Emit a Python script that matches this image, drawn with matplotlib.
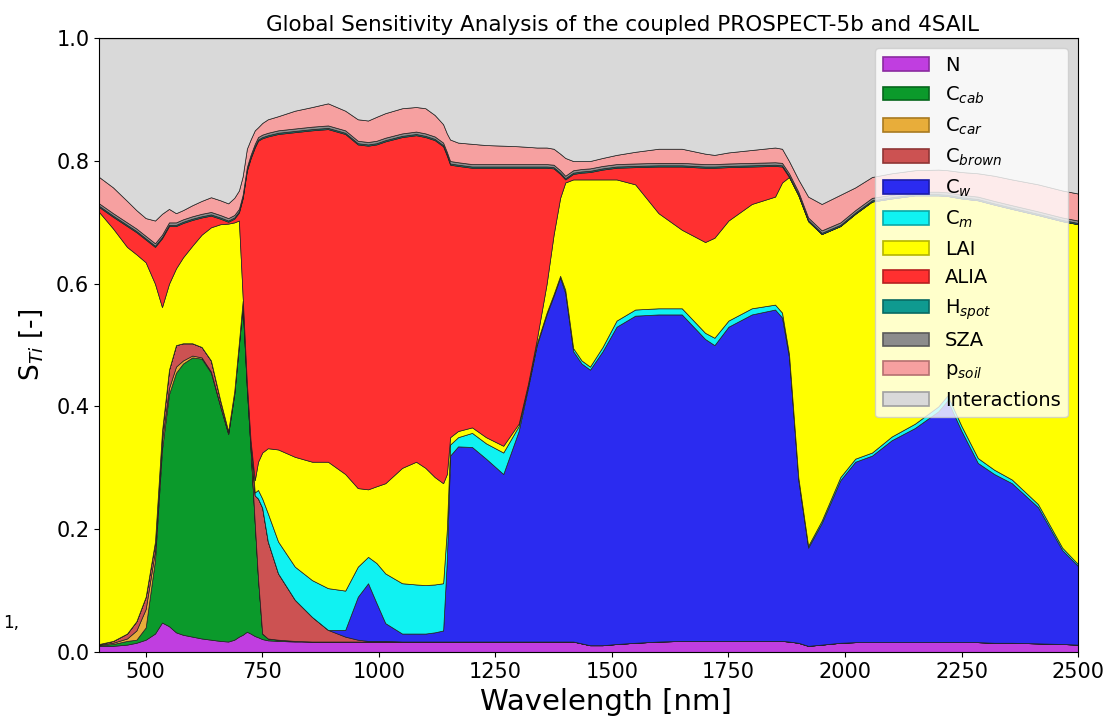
import numpy as np
import matplotlib
matplotlib.use("Agg")
import matplotlib.pyplot as plt
from matplotlib.patches import Patch

# wavelength grid [nm]
wavelength = [400, 430, 460, 480, 500, 520, 535, 550, 565, 580,
              600, 620, 640, 660, 677, 690, 700, 708, 717, 725,
              734, 741, 750, 762, 784, 820, 857, 891, 928, 955,
              977, 995, 1014, 1050, 1080, 1100, 1120, 1138, 1146, 1153,
              1170, 1200, 1230, 1267, 1300, 1320, 1339, 1360, 1375, 1389,
              1400, 1417, 1435, 1453, 1480, 1510, 1550, 1600, 1650, 1700,
              1720, 1750, 1800, 1850, 1865, 1880, 1900, 1921, 1950, 1990,
              2022, 2058, 2100, 2150, 2200, 2220, 2250, 2285, 2320, 2358,
              2414, 2466, 2500]

# total sensitivity indices
s_n = [.010, .010, .012, .015, .020, .030, .048, .042, .032, .028,
       .025, .022, .020, .018, .017, .020, .025, .028, .033, .030,
       .026, .024, .021, .019, .018, .017, .017, .017, .017, .017,
       .017, .017, .017, .017, .017, .017, .017, .017, .017, .017,
       .017, .017, .017, .017, .017, .017, .017, .017, .017, .017,
       .017, .017, .014, .011, .011, .013, .015, .017, .018, .018,
       .018, .018, .018, .018, .018, .017, .015, .010, .012, .015,
       .016, .016, .016, .016, .016, .016, .016, .016, .015, .015,
       .014, .013, .012]
s_cab = [.001, .003, .006, .005, .020, .120, .282, .378, .423, .442,
         .455, .456, .435, .382, .338, .400, .475, .537, .397, .300,
         .184, .096, .009, .003, .002, .001, 0, 0, 0, 0,
         0, 0, 0, 0, 0, 0, 0, 0, 0, 0,
         0, 0, 0, 0, 0, 0, 0, 0, 0, 0,
         0, 0, 0, 0, 0, 0, 0, 0, 0, 0,
         0, 0, 0, 0, 0, 0, 0, 0, 0, 0,
         0, 0, 0, 0, 0, 0, 0, 0, 0, 0,
         0, 0, 0]
s_car = [.001, .002, .004, .015, .030, .015, .015, .010, .010, .005,
         .003, .002, .002, .001, .001, .001, .001, .001, .001, .001,
         0, 0, 0, 0, 0, 0, 0, 0, 0, 0,
         0, 0, 0, 0, 0, 0, 0, 0, 0, 0,
         0, 0, 0, 0, 0, 0, 0, 0, 0, 0,
         0, 0, 0, 0, 0, 0, 0, 0, 0, 0,
         0, 0, 0, 0, 0, 0, 0, 0, 0, 0,
         0, 0, 0, 0, 0, 0, 0, 0, 0, 0,
         0, 0, 0]
s_cbrown = [.001, .003, .008, .015, .020, .015, .015, .030, .035, .028,
            .020, .017, .018, .009, .004, .004, .004, .006, .009, .014,
            .045, .130, .205, .158, .108, .067, .040, .019, .008, .003,
            .001, .001, .001, 0, 0, 0, 0, 0, 0, 0,
            0, 0, 0, 0, 0, 0, 0, 0, 0, 0,
            0, 0, 0, 0, 0, 0, 0, 0, 0, 0,
            0, 0, 0, 0, 0, 0, 0, 0, 0, 0,
            0, 0, 0, 0, 0, 0, 0, 0, 0, 0,
            0, 0, 0]
s_cw = [0, 0, 0, 0, 0, 0, 0, 0, 0, 0,
        0, 0, 0, 0, 0, 0, 0, 0, 0, 0,
        0, 0, 0, 0, 0, 0, 0, 0, .011, .070,
        .094, .062, .029, .013, .013, .013, .015, .018, .133, .303,
        .318, .317, .298, .273, .343, .413, .483, .533, .563, .593,
        .568, .473, .456, .449, .479, .517, .533, .533, .532, .492,
        .482, .512, .532, .540, .527, .463, .265, .160, .198, .265,
        .294, .304, .329, .349, .376, .394, .344, .292, .275, .260,
        .222, .153, .128]
s_cm = [0, 0, 0, 0, 0, 0, 0, 0, 0, 0,
        0, 0, 0, 0, 0, 0, 0, 0, 0, 0,
        .005, .014, .015, .046, .052, .054, .060, .068, .064, .049,
        .043, .065, .081, .082, .080, .079, .078, .077, .050, .018,
        .015, .023, .025, .035, .008, .004, .003, .003, .003, .003,
        .005, .005, .005, .005, .007, .010, .010, .010, .010, .010,
        .012, .010, .010, .008, .008, .005, .004, .003, .004, .005,
        .005, .005, .006, .007, .008, .008, .008, .008, .007, .006,
        .005, .004, .003]
s_lai = [.704, .672, .630, .598, .545, .420, .202, .140, .125, .140,
         .159, .183, .217, .287, .338, .275, .198, .008, 0, 0,
         .020, .046, .075, .106, .150, .179, .193, .206, .190, .128,
         .110, .125, .147, .188, .200, .191, .175, .163, .090, .012,
         .010, .009, .010, .011, .004, .003, .007, .047, .097, .127,
         .175, .275, .295, .305, .273, .230, .204, .155, .128, .148,
         .163, .163, .170, .176, .212, .289, .460, .529, .467, .409,
         .399, .409, .388, .372, .344, .325, .371, .420, .432, .441,
         .471, .532, .554]
s_alia = [.008, .019, .034, .036, .037, .060, .112, .094, .069, .056,
          .042, .028, .019, .009, .003, .006, .013, .159, .344, .459,
          .542, .523, .512, .508, .514, .529, .540, .542, .554, .560,
          .560, .557, .557, .539, .532, .539, .549, .549, .519, .444,
          .432, .423, .439, .453, .417, .352, .279, .189, .108, .039,
          .005, .009, .011, .012, .016, .019, .028, .076, .103, .121,
          .114, .087, .061, .050, .026, 0, 0, 0, 0, 0,
          0, 0, 0, 0, 0, 0, 0, 0, 0, 0,
          0, 0, 0]
s_hspot = [.002, .002, .002, .002, .002, .002, .002, .002, .002, .002,
           .002, .002, .002, .002, .002, .002, .002, .002, .002, .002,
           .002, .002, .002, .002, .002, .002, .002, .002, .002, .002,
           .002, .002, .002, .002, .002, .002, .002, .002, .002, .002,
           .002, .002, .002, .002, .002, .002, .002, .002, .002, .002,
           .002, .002, .002, .002, .002, .002, .002, .002, .002, .002,
           .002, .002, .002, .002, .002, .002, .002, .002, .002, .002,
           .002, .002, .002, .002, .002, .002, .002, .002, .002, .002,
           .002, .002, .002]
s_sza = [.004, .004, .004, .004, .004, .004, .004, .004, .004, .004,
         .004, .004, .004, .004, .004, .004, .004, .004, .004, .004,
         .004, .004, .004, .004, .004, .004, .004, .004, .004, .004,
         .004, .004, .004, .004, .004, .004, .004, .004, .004, .004,
         .004, .004, .004, .004, .004, .004, .004, .004, .004, .004,
         .004, .004, .004, .004, .004, .004, .004, .004, .004, .004,
         .004, .004, .004, .004, .004, .004, .004, .004, .004, .004,
         .004, .004, .004, .004, .004, .004, .004, .004, .004, .004,
         .004, .004, .004]
s_psoil = [.043, .042, .035, .030, .029, .037, .034, .022, .015, .015,
           .018, .021, .024, .024, .024, .028, .030, .030, .030, .025,
           .022, .016, .019, .022, .023, .029, .032, .036, .032, .035,
           .035, .039, .040, .041, .040, .041, .035, .030, .030, .035,
           .032, .033, .031, .030, .029, .028, .027, .027, .026, .027,
           .029, .015, .013, .012, .013, .015, .019, .023, .023, .017,
           .015, .018, .021, .024, .023, .020, .020, .034, .043, .045,
           .037, .034, .035, .035, .036, .036, .037, .038, .041, .042,
           .044, .044, .044]
s_inter = [.226, .243, .265, .280, .293, .297, .286, .278, .285, .280,
           .272, .265, .259, .264, .269, .260, .248, .225, .180, .165,
           .150, .145, .138, .132, .127, .118, .112, .106, .118, .132,
           .134, .128, .122, .114, .112, .114, .125, .140, .155, .165,
           .170, .172, .174, .175, .176, .177, .178, .178, .180, .188,
           .195, .200, .200, .200, .195, .190, .185, .180, .180, .188,
           .190, .186, .182, .178, .180, .200, .230, .258, .270, .255,
           .243, .226, .220, .215, .214, .215, .218, .220, .224, .230,
           .238, .248, .253]

labels = ['N', r'C$_{cab}$', r'C$_{car}$', r'C$_{brown}$', r'C$_{w}$', r'C$_{m}$',
          'LAI', 'ALIA', r'H$_{spot}$', 'SZA', r'p$_{soil}$', 'Interactions']
colors = ['#c03ee0', '#0b9a2b', '#e8ad3a', '#cc5252', '#2b2bf0', '#10f2f2',
          '#ffff00', '#ff3030', '#0f9a90', '#8c8c8c', '#f6a0a0', '#d9d9d9']
edges = ['#8a2aa0', '#06661c', '#a87a20', '#8f3535', '#1b1ba8', '#0aa8a8',
         '#b5b500', '#b52020', '#086a63', '#5a5a5a', '#b57070', '#a0a0a0']

series = [s_n, s_cab, s_car, s_cbrown, s_cw, s_cm, s_lai, s_alia,
          s_hspot, s_sza, s_psoil, s_inter]

fig = plt.figure(figsize=(11.08, 7.22), dpi=100)
ax = fig.add_axes([0.0894, 0.097, 0.8836, 0.850])
ax.set_facecolor('#d9d9d9')

ax.stackplot(wavelength, *series, colors=colors, edgecolor='#222222', linewidth=0.5)

ax.set_xlim(400, 2500)
ax.set_ylim(0, 1.0)
ax.set_xticks([500, 750, 1000, 1250, 1500, 1750, 2000, 2250, 2500])
ax.set_yticks([0.0, 0.2, 0.4, 0.6, 0.8, 1.0])
ax.tick_params(labelsize=15)
ax.set_xlabel('Wavelength [nm]', fontsize=21, labelpad=1)
ax.xaxis.set_label_coords(0.518, -0.058)
ax.set_ylabel(r'S$_{Ti}$ [-]', fontsize=19, labelpad=8)
ax.set_title('Global Sensitivity Analysis of the coupled PROSPECT-5b and 4SAIL',
             fontsize=15.5, pad=5, x=0.535)

handles = [Patch(facecolor=c, edgecolor=e, linewidth=1.2) for c, e in zip(colors, edges)]
ax.legend(handles, labels, loc='upper right', fontsize=14, framealpha=0.8,
          labelspacing=0.5, handlelength=2.4, borderaxespad=0.5)

fig.text(0.003, 0.13, '1,', fontsize=12)

fig.savefig('out.png', dpi=100)
